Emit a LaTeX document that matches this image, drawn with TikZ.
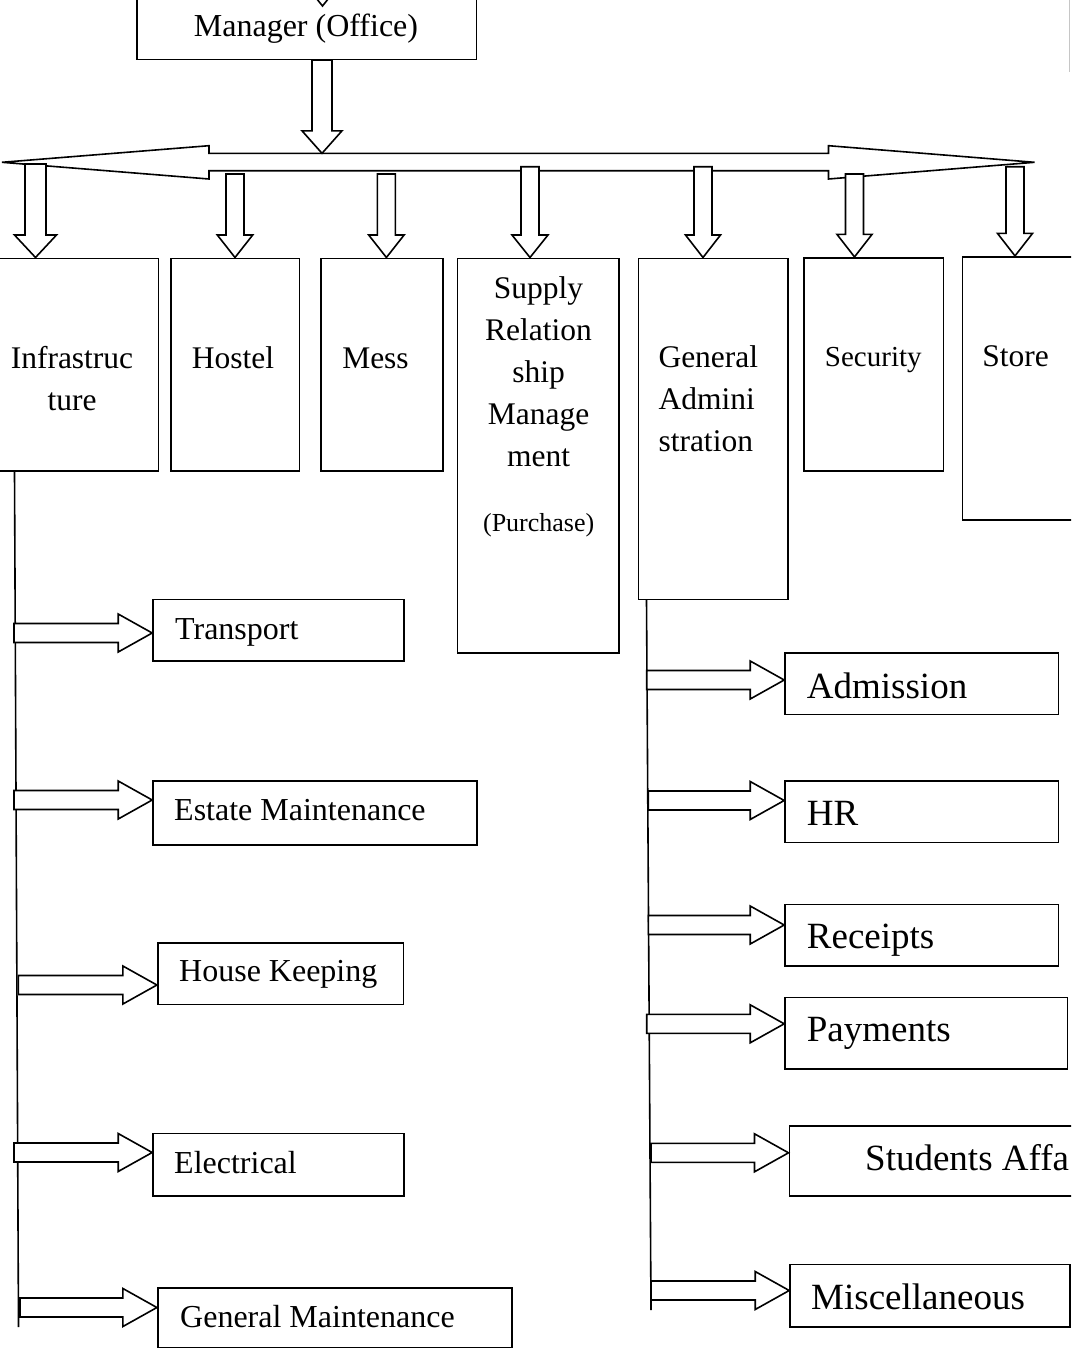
\documentclass[tikz,border=0pt]{standalone}
\usepackage{fontspec}
\setmainfont{Liberation Serif}
\usetikzlibrary{calc,fit}
\tikzset{
 blk/.style={draw=black, fill=white, line width=1.6pt, line join=miter},
 box/.style={draw=black, line width=1.6pt, inner sep=0pt},
 trunk/.style={draw=black, line width=1.6pt},
 rowtxt/.style={font=\fontsize{31.5}{42}\selectfont, inner sep=0pt},
 lefttxt/.style={font=\fontsize{32}{38}\selectfont, inner sep=0pt, anchor=base west},
 righttxt/.style={font=\fontsize{37}{44}\selectfont, inner sep=0pt, anchor=base west},
}
% block arrow pointing down: #1 start, #2 tip, #3 shaft half width, #4 head half width
\newcommand\blkdown[4]{%
 \coordinate (vS) at (#1); \coordinate (vT) at (#2);
 \draw[blk] ($(vS)+(-#3pt,0pt)$) -- ($(vT)+(-#3pt,22.5pt)$) -- ($(vT)+(-#4pt,22.5pt)$) -- (vT)
   -- ($(vT)+(#4pt,22.5pt)$) -- ($(vT)+(#3pt,22.5pt)$) -- ($(vS)+(#3pt,0pt)$) -- cycle;}
% block arrow pointing right: #1 start, #2 tip
\newcommand\blkright[2]{%
 \coordinate (hS) at (#1); \coordinate (hT) at (#2);
 \draw[blk] ($(hS)+(0pt,9.5pt)$) -- ($(hT)+(-34pt,9.5pt)$) -- ($(hT)+(-34pt,19pt)$) -- (hT)
   -- ($(hT)+(-34pt,-19pt)$) -- ($(hT)+(-34pt,-9.5pt)$) -- ($(hS)+(0pt,-9.5pt)$) -- cycle;}
\begin{document}
\begin{tikzpicture}[x=1pt,y=-1pt]
\useasboundingbox (0,0) rectangle (1071,1349);
\clip (0,0) rectangle (1071,1349);

% top fragment
\draw[gray!45, line width=1.2pt] (1069.5,0) -- (1069.5,72);

% manager
\node[box, fit={(137,-20) (476.5,59.3)}] (mgr) {};
\node[font=\fontsize{32}{38}\selectfont, inner sep=0pt, anchor=base] (mgrt) at (306,36.7) {Manager (Office)};
\coordinate (intop) at (322.5,-40);
\coordinate (intip) at (322.5,6);
\blkdown{intop}{intip}{10}{18}

% horizontal double arrow bar
\draw[blk] (209,153.3) -- (828.5,153.3) -- (828.5,145.7) -- (1034.5,162.3) -- (828.5,179) -- (828.5,170.7)
  -- (209,170.7) -- (209,179) -- (2,162.3) -- (209,145.7) -- cycle;
\coordinate (barTop) at (322,153.3);
\blkdown{mgr.south -| barTop}{barTop}{10}{20}

% row of department boxes
\node[box, fit={(-14,258.3) (158.3,471)}] (infra) {};
\node[box, fit={(171,258.3) (299.3,471)}] (hostel) {};
\node[box, fit={(321,258.3) (442.7,471)}] (mess) {};
\node[box, fit={(457.3,258.3) (619,652.7)}] (srm) {};
\node[box, fit={(638.3,258.3) (787.7,599.3)}] (gad) {};
\node[box, fit={(804,257.7) (943.3,471)}] (sec) {};
\node[box, fit={(962.3,256.7) (1085,520)}] (store) {};

\node[rowtxt, anchor=north, align=center] (infrat) at (72,338.5) {\strut Infrastruc\\ture};
\node[rowtxt, anchor=base] (hostelt) at (233,368) {Hostel};
\node[rowtxt, anchor=base] (messt) at (375.5,368) {Mess};
\node[rowtxt, anchor=north, align=center] (srmt) at (538.5,269) {\strut Supply\\Relation\\ship\\Manage\\ment};
\node[font=\fontsize{26}{30}\selectfont, inner sep=0pt, anchor=base] (purt) at (538.7,531.5) {(Purchase)};
\node[rowtxt, anchor=north west, align=left] (gadt) at (658.3,337.5) {\strut General\\Admini\\stration};
\node[font=\fontsize{29}{36}\selectfont, inner sep=0pt, anchor=base] (sect) at (873.3,366) {Security};
\node[rowtxt, anchor=base] (storet) at (1015.7,366) {Store};

% down arrows from bar
\coordinate (d1) at (35.5,164);
\coordinate (d2) at (235,174);
\coordinate (d3) at (386.4,174);
\coordinate (d4) at (530,166.7);
\coordinate (d5) at (703,166.7);
\coordinate (d6) at (854.5,174);
\coordinate (d7) at (1015,166.7);
\blkdown{d1}{d1 |- infra.north}{10.5}{21}
\blkdown{d2}{d2 |- hostel.north}{9}{17.7}
\blkdown{d3}{d3 |- mess.north}{9}{17.7}
\blkdown{d4}{d4 |- srm.north}{9}{18}
\blkdown{d5}{d5 |- gad.north}{9}{17.5}
\blkdown{d6}{d6 |- sec.north}{9}{17.5}
\blkdown{d7}{d7 |- store.north}{9}{17.5}

% left column
\node[box, fit={(153,599.3) (403.7,660.7)}] (transport) {};
\node[box, fit={(153,781) (476.7,845)}] (estate) {};
\node[box, fit={(157.7,942.7) (403.3,1004.3)}] (house) {};
\node[box, fit={(153,1133.3) (404,1195.7)}] (elec) {};
\node[box, fit={(157.7,1287.7) (511.7,1347.5)}] (genm) {};
\node[lefttxt] (transportt) at (175,639.3) {Transport};
\node[lefttxt] (estatet) at (174,820) {Estate Maintenance};
\node[lefttxt] (houset) at (179,981.7) {House Keeping};
\node[lefttxt] (elect) at (174,1173.3) {Electrical};
\node[lefttxt] (genmt) at (180,1327) {General Maintenance};

\coordinate (ltop) at (infra.south -| 14.5,0);
\coordinate (lbot) at (18.5,1327);
\draw[trunk] (ltop) -- (lbot);
\coordinate (h1) at (14,633);
\coordinate (h2) at (14,800);
\coordinate (h3) at (18.3,985);
\coordinate (h4) at (14,1152.5);
\coordinate (h5) at (20,1307.5);
\blkright{h1}{transport.west |- h1}
\blkright{h2}{estate.west |- h2}
\blkright{h3}{house.west |- h3}
\blkright{h4}{elec.west |- h4}
\blkright{h5}{genm.west |- h5}

% right column
\node[box, fit={(785,652.7) (1058.3,714.3)}] (adm) {};
\node[box, fit={(785,781) (1058.3,842.3)}] (hr) {};
\node[box, fit={(785,904.3) (1058.3,965.7)}] (rec) {};
\node[box, fit={(785,997.3) (1067.3,1069)}] (pay) {};
\node[box, fit={(789.3,1126) (1090,1195.7)}] (stu) {};
\node[box, fit={(790,1264.3) (1070,1326.7)}] (misc) {};
\node[righttxt] (admt) at (806.7,698.3) {Admission};
\node[righttxt] (hrt) at (806.7,825.7) {HR};
\node[righttxt] (rect) at (806.7,948.3) {Receipts};
\node[righttxt] (payt) at (806.7,1041.7) {Payments};
\node[righttxt] (stut) at (865,1170) {Students Affa};
\node[righttxt] (misct) at (811,1309) {Miscellaneous};

\coordinate (rtop) at (gad.south -| 646.5,0);
\coordinate (rbot) at (651,1310);
\draw[trunk] (rtop) -- (rbot);
\coordinate (r1) at (646.7,680);
\coordinate (r2) at (648.3,800.5);
\coordinate (r3) at (648.3,925);
\coordinate (r4) at (646.7,1023.8);
\coordinate (r5) at (651,1152.8);
\coordinate (r6) at (651,1290.5);
\blkright{r1}{adm.west |- r1}
\blkright{r2}{hr.west |- r2}
\blkright{r3}{rec.west |- r3}
\blkright{r4}{pay.west |- r4}
\blkright{r5}{stu.west |- r5}
\blkright{r6}{misc.west |- r6}
\end{tikzpicture}
\end{document}
